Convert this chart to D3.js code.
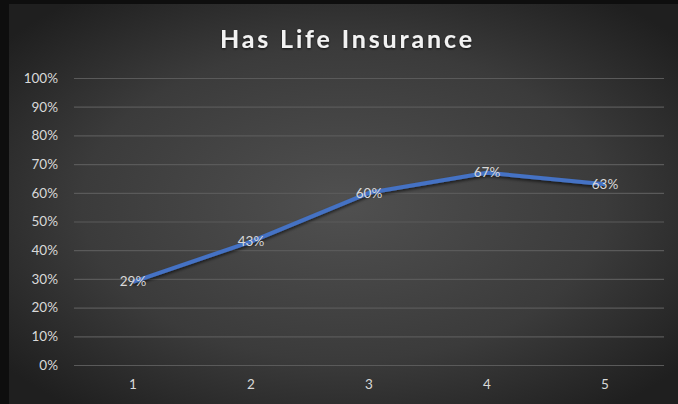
<!DOCTYPE html>
<html>
<head>
<meta charset="utf-8">
<script src="https://cdn.jsdelivr.net/npm/d3@7"></script>
<style>
  html, body { margin: 0; padding: 0; background: #000; }
  svg { display: block; }
</style>
</head>
<body>
<div id="chart"></div>
<script>
// Share of respondents with life insurance, by group
const categories = ["1", "2", "3", "4", "5"];
const values = [0.29, 0.43, 0.60, 0.67, 0.63];
const yTicks = [0, 0.1, 0.2, 0.3, 0.4, 0.5, 0.6, 0.7, 0.8, 0.9, 1.0];
const title = "Has Life Insurance";

const W = 678, H = 404;
const frame = { left: 9, top: 4, right: 678, bottom: 404 };
const plot = { left: 74, right: 664, top: 78, bottom: 365 };
const font = "Lato, 'Open Sans', sans-serif";

const svg = d3.select("#chart").append("svg")
  .attr("width", W).attr("height", H);

const defs = svg.append("defs");
const bg = defs.append("radialGradient").attr("id", "bg")
  .attr("cx", "50%").attr("cy", "50%").attr("r", "65%");
bg.append("stop").attr("offset", "0%").attr("stop-color", "#505050");
bg.append("stop").attr("offset", "60%").attr("stop-color", "#3b3b3b");
bg.append("stop").attr("offset", "100%").attr("stop-color", "#1f1f1f");

const shadow = defs.append("filter").attr("id", "shadow")
  .attr("x", "-10%").attr("y", "-10%").attr("width", "120%").attr("height", "130%");
shadow.append("feDropShadow").attr("dx", 0).attr("dy", 2)
  .attr("stdDeviation", 1.5).attr("flood-color", "#000").attr("flood-opacity", 0.6);

const glow = defs.append("filter").attr("id", "glow")
  .attr("x", "-10%").attr("y", "-30%").attr("width", "120%").attr("height", "160%");
glow.append("feDropShadow").attr("dx", 0).attr("dy", 1)
  .attr("stdDeviation", 1.2).attr("flood-color", "#000").attr("flood-opacity", 0.7);

svg.append("rect").attr("x", 0).attr("y", 0).attr("width", W).attr("height", H)
  .attr("fill", "#0e0e0e");
svg.append("rect")
  .attr("x", frame.left).attr("y", frame.top)
  .attr("width", frame.right - frame.left).attr("height", frame.bottom - frame.top)
  .attr("fill", "url(#bg)");

const x = d3.scaleBand().domain(categories).range([plot.left, plot.right]);
const y = d3.scaleLinear().domain([0, 1]).range([plot.bottom, plot.top]);

// Horizontal gridlines + y axis labels
const yAxis = d3.axisLeft(y).tickValues(yTicks)
  .tickFormat(d3.format(".0%"))
  .tickSize(-(plot.right - plot.left)).tickPadding(16);
const gy = svg.append("g").attr("transform", `translate(${plot.left},0)`).call(yAxis);
gy.select(".domain").remove();
gy.selectAll("line").attr("stroke", "#5a5a5a").attr("stroke-width", 1.2);
gy.selectAll("text").attr("fill", "#d9d9d9").attr("font-family", font)
  .attr("font-size", 13.5);

// Category labels
const xAxis = d3.axisBottom(x).tickSize(0).tickPadding(14);
const gx = svg.append("g").attr("transform", `translate(0,${plot.bottom})`).call(xAxis);
gx.select(".domain").remove();
gx.selectAll("text").attr("fill", "#d9d9d9").attr("font-family", font)
  .attr("font-size", 13.5);

// Title
svg.append("text")
  .attr("x", 346).attr("y", 48)
  .attr("text-anchor", "middle")
  .attr("fill", "#f2f2f2")
  .attr("font-family", font).attr("font-weight", "bold")
  .attr("font-size", 25)
  .attr("textLength", 252).attr("lengthAdjust", "spacing")
  .attr("filter", "url(#glow)")
  .text(title);

// Series line
const line = d3.line()
  .x((d, i) => x(categories[i]) + x.bandwidth() / 2)
  .y(d => y(d));
svg.append("path").datum(values)
  .attr("d", line)
  .attr("fill", "none")
  .attr("stroke", "#4472c4")
  .attr("stroke-width", 4)
  .attr("stroke-linejoin", "round")
  .attr("filter", "url(#shadow)");

// Data labels centred on points
svg.append("g").selectAll("text").data(values).join("text")
  .attr("x", (d, i) => x(categories[i]) + x.bandwidth() / 2)
  .attr("y", d => y(d))
  .attr("dy", "0.35em")
  .attr("text-anchor", "middle")
  .attr("fill", "#d9d9d9")
  .attr("font-family", font).attr("font-size", 13.5)
  .text(d => d3.format(".0%")(d));
</script>
</body>
</html>
